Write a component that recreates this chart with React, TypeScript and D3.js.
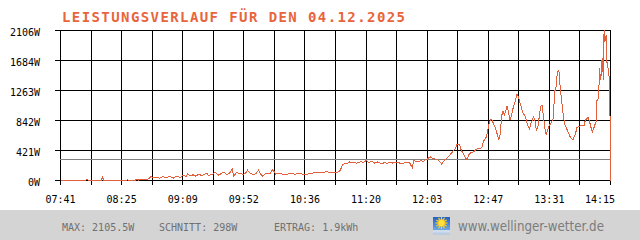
import React from "react";
import * as d3 from "d3";

const title = "LEISTUNGSVERLAUF FÜR DEN 04.12.2025";
const startTime = "07:41";
const endTime = "14:15";
const yMax = 2106;
const average = 298;
const xTickLabels = ["07:41", "08:25", "09:09", "09:52", "10:36", "11:20", "12:03", "12:47", "13:31", "14:15"];
const yTickLabels = ["0W", "421W", "842W", "1263W", "1684W", "2106W"];
const footerStats = ["MAX: 2105.5W", "SCHNITT: 298W", "ERTRAG: 1.9kWh"];
const website = "www.wellinger-wetter.de";

const times = [
  "07:41", "07:59", "08:00", "08:01", "08:10", "08:11", "08:12", "08:28", "08:29", "08:30",
  "08:34", "08:36", "08:37", "08:39", "08:42", "08:44", "08:46", "08:48", "08:50", "08:52",
  "08:54", "08:57", "08:59", "09:02", "09:04", "09:07", "09:09", "09:11", "09:12", "09:14",
  "09:16", "09:18", "09:20", "09:22", "09:26", "09:27", "09:30", "09:32", "09:34", "09:36",
  "09:38", "09:40", "09:42", "09:44", "09:45", "09:47", "09:50", "09:52", "09:54", "09:55",
  "09:57", "09:59", "10:01", "10:03", "10:04", "10:06", "10:08", "10:11", "10:13", "10:15",
  "10:18", "10:22", "10:25", "10:29", "10:33", "10:36", "10:40", "10:43", "10:47", "10:50",
  "10:52", "10:53", "10:56", "10:59", "11:01", "11:02", "11:03", "11:05", "11:06", "11:08",
  "11:10", "11:12", "11:13", "11:16", "11:18", "11:20", "11:22", "11:24", "11:26", "11:28",
  "11:31", "11:33", "11:35", "11:37", "11:39", "11:42", "11:44", "11:46", "11:49", "11:51",
  "11:53", "11:54", "11:56", "11:58", "11:59", "12:01", "12:04", "12:06", "12:08", "12:10",
  "12:12", "12:14", "12:16", "12:19", "12:21", "12:24", "12:25", "12:27", "12:28", "12:30",
  "12:32", "12:34", "12:37", "12:39", "12:42", "12:43", "12:44", "12:46", "12:47", "12:48",
  "12:49", "12:50", "12:52", "12:53", "12:54", "12:55", "12:56", "12:57", "12:58", "12:59",
  "13:01", "13:02", "13:03", "13:04", "13:05", "13:07", "13:08", "13:09", "13:10", "13:11",
  "13:12", "13:14", "13:15", "13:16", "13:17", "13:18", "13:20", "13:21", "13:22", "13:23",
  "13:24", "13:25", "13:26", "13:27", "13:28", "13:29", "13:30", "13:31", "13:33", "13:34",
  "13:35", "13:36", "13:37", "13:38", "13:39", "13:40", "13:41", "13:42", "13:44", "13:46",
  "13:48", "13:50", "13:51", "13:53", "13:56", "13:57", "13:59", "14:00", "14:01", "14:02",
  "14:03", "14:05", "14:05", "14:06", "14:07", "14:07", "14:08", "14:09", "14:10", "14:10",
  "14:11", "14:11", "14:12", "14:12", "14:13", "14:13", "14:14", "14:14", "14:15", "14:15",
];

const watts = [
  0, 0, 20, 0, 0, 49, 0, 0, 15, 0,
  0, 20, 5, 20, 10, 25, 55, 35, 50, 30,
  55, 40, 60, 35, 60, 45, 77, 55, 95, 65,
  80, 60, 90, 70, 105, 70, 90, 115, 75, 95,
  120, 80, 100, 157, 60, 110, 95, 85, 110, 145,
  100, 85, 95, 150, 95, 60, 100, 95, 157, 90,
  95, 85, 95, 90, 95, 85, 95, 110, 105, 115,
  135, 110, 115, 110, 130, 170, 220, 240, 235, 260,
  245, 255, 240, 265, 255, 280, 250, 270, 245, 260,
  235, 250, 240, 255, 245, 260, 245, 240, 255, 250,
  180, 280, 265, 260, 280, 270, 310, 330, 305, 300,
  280, 232, 285, 335, 385, 450, 510, 500, 430, 360,
  290, 380, 405, 440, 455, 470, 550, 610, 700, 800,
  855, 855, 760, 710, 640, 565, 650, 910, 970, 920,
  1050, 950, 850, 910, 1000, 1130, 1215, 1180, 1106, 1036,
  960, 896, 820, 755, 727, 803, 896, 830, 695, 760,
  900, 1046, 1056, 896, 733, 639, 709, 765, 826, 873,
  1247, 1317, 1528, 1551, 1294, 1130, 943, 803, 709, 615,
  569, 663, 747, 765, 770, 849, 887, 826, 747, 685,
  733, 849, 1130, 1130, 1411, 1575, 1411, 1715, 1411, 2019,
  2106, 1949, 2043, 1715, 1600, 1620, 1457, 1411, 640, 0,
];

const toMin = (t: string) => {
  const [h, m] = t.split(":").map(Number);
  return h * 60 + m;
};

const W = 640;
const H = 240;
const LINE = "#e2603a";
const TITLE = "#e8653c";
const MONO = "'DejaVu Sans Mono', 'Liberation Mono', monospace";

export default function App() {
  const t0 = toMin(startTime);
  const t1 = toMin(endTime);
  const x = d3.scaleLinear().domain([t0, t1]).range([60, 610]);
  const y = d3.scaleLinear().domain([0, yMax]).range([180, 30]);
  const px = (v: number) => Math.round(v) + 0.5;

  const gridCount = (xTickLabels.length - 1) * 2;
  const gridTimes = d3.range(gridCount + 1).map((i) => t0 + (i * (t1 - t0)) / gridCount);
  const yVals = yTickLabels.map((_, i) => (i * yMax) / (yTickLabels.length - 1));

  const pts: [number, number][] = times.map((t, i) => [toMin(t), watts[i]]);
  const line = d3
    .line<[number, number]>()
    .x((d) => x(d[0]) + 0.5)
    .y((d) => y(d[1]) + 0.5);

  const left = 60;
  const right = 610;

  return (
    <svg
      width={W}
      height={H}
      style={{ position: "absolute", left: 0, top: 0, display: "block", background: "#fff" }}
    >
      <defs>
        <linearGradient id="sky" x1="0" y1="0" x2="0" y2="1">
          <stop offset="0" stopColor="#1f5fc8" />
          <stop offset="1" stopColor="#6aa8ee" />
        </linearGradient>
        <linearGradient id="fade" x1="0" y1="0" x2="0" y2="1">
          <stop offset="0" stopColor="#fff" stopOpacity={0.55} />
          <stop offset="1" stopColor="#fff" stopOpacity={0} />
        </linearGradient>
      </defs>
      <rect x={0} y={0} width={W} height={H} fill="#fff" />

      <text
        x={62}
        y={22}
        fill={TITLE}
        fontFamily={MONO}
        fontSize={14}
        fontWeight="bold"
        textLength={343}
        lengthAdjust="spacing"
      >
        {title}
      </text>

      <g shapeRendering="crispEdges" stroke="#000" strokeWidth={1}>
        {yVals.map((v, i) => (
          <line key={"h" + i} x1={55} x2={right + 0.5} y1={px(y(v))} y2={px(y(v))} />
        ))}
        {gridTimes.map((t, i) => (
          <line key={"v" + i} x1={px(x(t))} x2={px(x(t))} y1={30} y2={185} />
        ))}
      </g>

      <line
        x1={left}
        x2={right + 1}
        y1={px(y(average))}
        y2={px(y(average))}
        stroke="#808080"
        strokeWidth={1}
        shapeRendering="crispEdges"
      />

      <path d={line(pts) || ""} fill="none" stroke={LINE} strokeWidth={1} shapeRendering="crispEdges" />

      <g fontFamily={MONO} fontSize={10} fill="#000">
        {yTickLabels.map((lab, i) => (
          <text key={"yl" + i} x={40} y={px(y(yVals[i])) + 5.5} textAnchor="end">
            {lab}
          </text>
        ))}
        {xTickLabels.map((lab, i) => {
          const xx = Math.min(x(gridTimes[i * 2]) + 0.5, 600);
          return (
            <text key={"xl" + i} x={xx} y={203} textAnchor="middle">
              {lab}
            </text>
          );
        })}
      </g>

      <rect x={0} y={210} width={W} height={30} fill="#d4d4d4" />
      <g fontFamily={MONO} fontSize={10} fill="#707070">
        {footerStats.map((s, i) => (
          <text key={"fs" + i} x={[62, 159, 274][i]} y={231}>
            {s}
          </text>
        ))}
      </g>

      <g>
        <rect x={433} y={217} width={17} height={13} fill="url(#sky)" />
        <g stroke="#ffd21a" strokeWidth={1.2}>
          {d3.range(12).map((k) => {
            const a = (k * Math.PI) / 6;
            return (
              <line
                key={"r" + k}
                x1={441.5 + Math.cos(a) * 3}
                y1={223 + Math.sin(a) * 3}
                x2={441.5 + Math.cos(a) * 6}
                y2={223 + Math.sin(a) * 6}
              />
            );
          })}
        </g>
        <circle cx={441.5} cy={223} r={3.6} fill="#ffe040" stroke="#f5b800" strokeWidth={0.6} />
        <rect x={433} y={230.5} width={17} height={4} fill="#8ab8f0" opacity={0.55} />
        <rect x={433} y={230.5} width={17} height={4} fill="url(#fade)" />
      </g>

      <text
        x={458}
        y={231}
        fill="#7c7c7c"
        fontFamily="'DejaVu Sans', Verdana, sans-serif"
        fontSize={13.5}
        textLength={146}
        lengthAdjust="spacingAndGlyphs"
      >
        {website}
      </text>
    </svg>
  );
}
